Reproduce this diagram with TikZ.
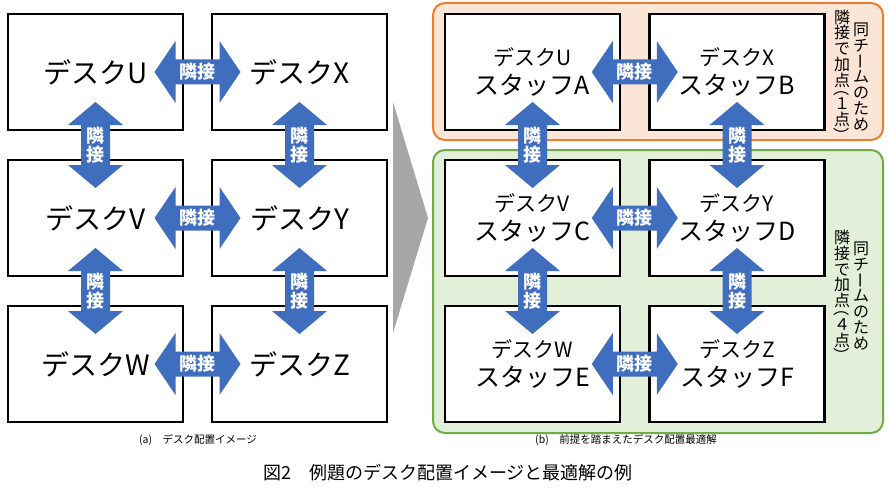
\documentclass[tikz,border=0pt]{standalone}
\usepackage{fontspec}
\usepackage{graphicx}
\setmainfont{Noto Sans CJK JP}
\usetikzlibrary{calc}
\definecolor{arrowblue}{RGB}{64,110,190}
\definecolor{orangeline}{RGB}{237,125,49}
\definecolor{orangefill}{RGB}{251,229,214}
\definecolor{greenline}{RGB}{112,173,71}
\definecolor{greenfill}{RGB}{226,240,217}
\definecolor{grayarrow}{RGB}{166,166,166}
\newcommand\fs[1]{\fontsize{#1}{#1}\selectfont}
\newcommand\vfnt{\fontsize{16}{15.8}\selectfont\lineskiplimit=-100pt\lineskip=0pt\relax}
\newcommand\vrot[1]{\rotatebox[origin=c]{-90}{\rule[-0.12em]{0pt}{1em}#1}}
\tikzset{
  desk/.style={draw=black, line width=2.5pt, fill=white, minimum width=175pt,
    minimum height=116pt, inner sep=0pt, align=center},
  deskbig/.style={desk, font=\fs{28}},
  deskstaff/.style={desk, font=\fs{25}},
  arrowlabel/.style={text=white, font=\fontsize{18}{19}\selectfont\bfseries, inner sep=0pt},
  vtext/.style={font=\vfnt, align=center, inner sep=0pt},
  teamA/.style={draw=orangeline, fill=orangefill, line width=2pt, rounded corners=12pt},
  teamB/.style={draw=greenline, fill=greenfill, line width=2pt, rounded corners=12pt},
  subcap/.style={font=\fs{10.5}, inner sep=0pt},
  pics/harrow/.style={code={
    \fill[arrowblue] (-43,0) -- (-22,-31) -- (-22,-12.5) -- (22,-12.5) -- (22,-31)
      -- (43,0) -- (22,31) -- (22,12.5) -- (-22,12.5) -- (-22,31) -- cycle;
    \node[arrowlabel] (-lbl) {隣接};}},
  pics/varrow/.style={code={
    \fill[arrowblue] (0,-43) -- (-27.5,-20) -- (-14.5,-20) -- (-14.5,20) -- (-27.5,20)
      -- (0,43) -- (27.5,20) -- (14.5,20) -- (14.5,-20) -- (27.5,-20) -- cycle;
    \node[arrowlabel, align=center] (-lbl) {隣\\接};}},
}
\begin{document}
\begin{tikzpicture}[x=1pt,y=-1pt]
\useasboundingbox (0,0) rectangle (890,500);
\fill[white] (0,0) rectangle (890,500);

% team groups (right panel)
\draw[teamA] (433,3) rectangle (883,140);
\draw[teamB] (433,150) rectangle (883,433);

% transition arrow
\fill[grayarrow] (393,102) -- (428,218) -- (393,333) -- cycle;

% left panel desks
\node[deskbig] (U) at (95.5,72) {デスクU};
\node[deskbig] (X) at (299.5,72) {デスクX};
\node[deskbig] (V) at (95.5,218) {デスクV};
\node[deskbig] (Y) at (299.5,218) {デスクY};
\node[deskbig] (W) at (95.5,364) {デスクW};
\node[deskbig] (Z) at (299.5,364) {デスクZ};

% right panel desks
\node[deskstaff] (UA) at (532.5,72) {{\fs{21}デスクU}\\[4pt]スタッフA};
\node[deskstaff] (XB) at (737,72) {{\fs{21}デスクX}\\[4pt]スタッフB};
\node[deskstaff] (VC) at (532.5,218) {{\fs{21}デスクV}\\[4pt]スタッフC};
\node[deskstaff] (YD) at (737,218) {{\fs{21}デスクY}\\[4pt]スタッフD};
\node[deskstaff] (WE) at (532.5,364) {{\fs{21}デスクW}\\[4pt]スタッフE};
\node[deskstaff] (ZF) at (737,364) {{\fs{21}デスクZ}\\[4pt]スタッフF};

% adjacency arrows, left panel
\pic (a1) at ($(U.east)!0.5!(X.west)$) {harrow};
\pic (a2) at ($(V.east)!0.5!(Y.west)$) {harrow};
\pic (a3) at ($(W.east)!0.5!(Z.west)$) {harrow};
\pic (a4) at ($(U.south)!0.5!(V.north)$) {varrow};
\pic (a5) at ($(X.south)!0.5!(Y.north)$) {varrow};
\pic (a6) at ($(V.south)!0.5!(W.north)$) {varrow};
\pic (a7) at ($(Y.south)!0.5!(Z.north)$) {varrow};

% adjacency arrows, right panel
\pic (b1) at ($(UA.east)!0.5!(XB.west)$) {harrow};
\pic (b2) at ($(VC.east)!0.5!(YD.west)$) {harrow};
\pic (b3) at ($(WE.east)!0.5!(ZF.west)$) {harrow};
\pic (b4) at ($(UA.south)!0.5!(VC.north)$) {varrow};
\pic (b5) at ($(XB.south)!0.5!(YD.north)$) {varrow};
\pic (b6) at ($(VC.south)!0.5!(WE.north)$) {varrow};
\pic (b7) at ($(YD.south)!0.5!(ZF.north)$) {varrow};

% vertical notes
\node[vtext] (tA1) at (861,77) {同\\チ\\\vrot{ー}\\ム\\の\\た\\め};
\node[vtext] (tA2) at (842,76.5) {隣\\接\\で\\加\\点\\[-7.9pt]\vrot{（}\\１\\点\\\vrot{）}};
\node[vtext] (tB1) at (861,296) {同\\チ\\\vrot{ー}\\ム\\の\\た\\め};
\node[vtext] (tB2) at (842,297) {隣\\接\\で\\加\\点\\[-7.9pt]\vrot{（}\\４\\点\\\vrot{）}};

% captions
\node[subcap] (capa) at (198,440) {(a)　デスク配置イメージ};
\node[subcap] (capb) at (626,440) {(b)　前提を踏まえたデスク配置最適解};
\node[font=\fs{18}, inner sep=0pt] (cap) at (448,473) {図2　例題のデスク配置イメージと最適解の例};
\end{tikzpicture}
\end{document}
